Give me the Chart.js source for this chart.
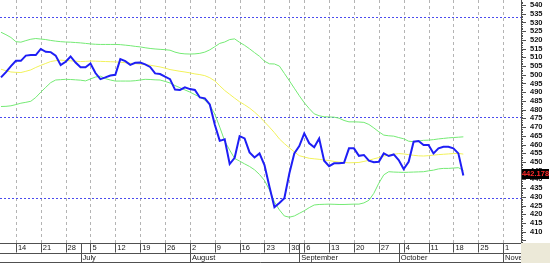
<!DOCTYPE html>
<html>
<head>
<meta charset="utf-8">
<script src="https://cdn.jsdelivr.net/npm/chart.js@4.4.1/dist/chart.umd.min.js"></script>
<style>
    html, body { margin: 0; padding: 0; background: #fff; }
</style>
</head>
<body>
<canvas id="graficoPrecio" width="550" height="263"></canvas>
<script>
// Datos (una sesion por posicion)
const precio = [498.5, 501.5, 505, 508, 508, 511, 511.3, 511.3, 514.8, 513.2,
    513, 511, 505.6, 507.5, 510.5, 507, 504.3, 504.3, 506.5, 501,
    497.5, 498.5, 499.6, 500, 509, 507.8, 505.7, 506.9, 507, 506,
    504.5, 500.8, 500.4, 498.9, 497.5, 491.5, 491.3, 492.8, 491.8, 491.3,
    487, 486.5, 483, 471.5, 462.1, 463, 448.8, 452.4, 464.8, 463.5,
    455.5, 452.6, 454.9, 448.2, 435.8, 424, 426.5, 429.2, 443.4, 454.9,
    459.1, 466.4, 460.7, 458.4, 463.5, 450.7, 447.6, 449.2, 449.2, 449.5,
    457.8, 457.8, 453.5, 454, 450.7, 449.8, 450.1, 454.9, 453.4, 454.3,
    451.1, 445.9, 450.1, 461.6, 462, 459.7, 459.7, 454.9, 457.8, 458.7,
    458.7, 457.8, 454.9, 442.2];

const media = [503.2, 502.3, 501.6, 501.4, 501.3, 502.0, 502.8, 504.2, 505.4, 506.5,
    507.6, 508.1, 508.4, 508.2, 508.0, 507.8, 507.6, 507.7, 507.9, 507.8,
    507.7, 507.6, 507.5, 507.4, 507.2, 506.9, 506.6, 506.4, 506.1, 505.9,
    505.5, 505.0, 504.5, 503.8, 503.0, 502.5, 502.0, 501.6, 501.1, 500.5,
    500.1, 499.5, 498.3, 496.5, 493.7, 491.0, 488.8, 486.6, 484.5, 482.8,
    480.9, 478.6, 476.0, 473.0, 470.0, 466.8, 463.2, 460.5, 458.1, 455.8,
    453.6, 452.8, 452.1, 451.8, 451.5, 451.1, 450.8, 450.3, 449.9, 449.7,
    449.5, 449.6, 449.7, 450.3, 450.9, 451.8, 452.5, 453.4, 453.9, 454.4,
    454.8, 454.6, 454.2, 453.8, 453.5, 453.4, 453.6, 453.9, 454.2, 454.4,
    454.6, 454.8, 454.9, 454.5];

const bandaSup = [524.4, 523.0, 521.4, 519.0, 518.7, 519.6, 520.4, 520.8, 520.5, 520.2,
    519.7, 519.3, 519.0, 518.8, 518.7, 518.5, 518.3, 518.0, 517.7, 517.5,
    517.4, 517.4, 517.4, 517.4, 517.3, 517.0, 516.7, 516.3, 516.0, 515.5,
    515.1, 514.8, 514.6, 514.4, 514.1, 513.0, 512.3, 512.0, 511.9, 512.0,
    512.3, 513.0, 514.3, 516.1, 518.0, 518.8, 520.2, 520.6, 518.6, 516.9,
    514.9, 512.7, 510.6, 507.8, 506.3, 506.2, 505.0, 500.8, 496.6, 492.3,
    488.0, 484.0, 480.6, 477.6, 476.5, 475.9, 475.8, 475.7, 475.1, 473.8,
    473.0, 473.0, 472.9, 472.7, 471.5, 469.5, 467.3, 465.4, 465.0, 464.8,
    464.0, 463.3, 461.9, 461.6, 462.0, 462.4, 462.5, 462.8, 463.2, 463.5,
    463.8, 464.0, 464.2, 464.4];

const bandaInf = [481.8, 481.9, 482.2, 482.9, 483.7, 484.2, 484.8, 487.0, 490.0, 492.8,
    495.5, 497.0, 497.2, 497.4, 497.3, 497.1, 496.9, 496.5, 497.6, 498.7,
    499.2, 497.8, 497.0, 496.4, 496.4, 496.4, 496.4, 496.6, 497.0, 497.4,
    497.3, 497.1, 497.0, 496.2, 495.3, 493.8, 492.6, 491.3, 490.1, 488.6,
    487.2, 485.5, 482.6, 477.5, 470.0, 462.0, 456.8, 452.0, 450.5, 448.9,
    447.4, 445.5, 442.8, 439.4, 434.0, 427.0, 422.5, 419.0, 418.3, 419.0,
    420.5, 422.0, 423.8, 425.3, 425.6, 425.7, 425.8, 425.7, 425.6, 425.6,
    425.7, 425.8, 425.8, 426.5, 428.0, 432.0, 437.8, 442.6, 444.4, 444.2,
    444.1, 444.0, 444.1, 444.2, 444.3, 444.4, 444.9, 445.3, 446.0, 446.3,
    446.3, 446.5, 446.7, 445.2];

// Eje de fechas: posicion (sesion) de cada lunes y su etiqueta
const semanasIdx = [3, 8, 13, 18, 23, 28, 33, 38, 43, 48, 53, 58, 61, 66, 71, 76, 81, 86, 91, 96, 101];
const etiquetasDias = ['14', '21', '28', '5', '12', '19', '26', '2', '9', '16', '23', '30', '6', '13', '20', '27', '4', '11', '18', '25', '1'];
const mesesIdx = [16, 38, 60, 80, 101];
const meses = ['July', 'August', 'September', 'October', 'November'];

// Eje de precios
const valoresEjeY = [410, 415, 420, 425, 430, 435, 440, 445, 450, 455, 460, 465, 470, 475,
    480, 485, 490, 495, 500, 505, 510, 515, 520, 525, 530, 535, 540];
const niveles = [533.1, 475.6, 429.1];
const ultimoValor = 442.178;

const fuente = "'Liberation Sans', Arial, sans-serif";

function aPuntos(serie) {
    return serie.map((v, i) => ({ x: i, y: v }));
}

// Rejilla vertical semanal y lineas horizontales punteadas
const rejilla = {
    id: 'rejilla',
    beforeDatasetsDraw(chart) {
        const { ctx, chartArea } = chart;
        const x = chart.scales.x;
        const y = chart.scales.y;
        ctx.save();
        ctx.lineWidth = 1;
        ctx.strokeStyle = '#b4b4b4';
        ctx.setLineDash([3, 3]);
        ctx.beginPath();
        semanasIdx.forEach(d => {
            const px = Math.round(x.getPixelForValue(d)) + 0.5;
            ctx.moveTo(px, chartArea.top);
            ctx.lineTo(px, chartArea.bottom);
        });
        ctx.stroke();
        ctx.strokeStyle = '#4b4bef';
        ctx.setLineDash([2, 2]);
        ctx.beginPath();
        niveles.forEach(n => {
            const py = Math.round(y.getPixelForValue(n)) + 0.5;
            ctx.moveTo(chartArea.left, py);
            ctx.lineTo(chartArea.right, py);
        });
        ctx.stroke();
        ctx.restore();
    }
};

// Eje inferior con dias y meses, marcas menores del eje Y y recuadro del ultimo valor
const ejes = {
    id: 'ejes',
    afterDraw(chart) {
        const { ctx, chartArea } = chart;
        const x = chart.scales.x;
        const y = chart.scales.y;
        const arriba = chartArea.bottom;
        const medio = arriba + 9.5;
        const abajo = arriba + 19;
        ctx.save();

        ctx.fillStyle = '#ece9d8';
        ctx.fillRect(chartArea.right, arriba, chart.width - chartArea.right, chart.height - arriba);
        ctx.fillRect(0, abajo, chartArea.right, chart.height - abajo);

        ctx.strokeStyle = '#505050';
        ctx.lineWidth = 1;
        ctx.beginPath();
        [arriba, medio, abajo].forEach(py => {
            ctx.moveTo(0, Math.round(py) + 0.5);
            ctx.lineTo(chartArea.right, Math.round(py) + 0.5);
        });
        semanasIdx.forEach(d => {
            const px = Math.round(x.getPixelForValue(d)) + 0.5;
            ctx.moveTo(px, arriba);
            ctx.lineTo(px, medio);
        });
        mesesIdx.forEach(m => {
            const px = Math.round(x.getPixelForValue(m)) + 0.5;
            ctx.moveTo(px, arriba);
            ctx.lineTo(px, abajo);
        });
        ctx.stroke();

        ctx.beginPath();
        ctx.rect(0, arriba, chartArea.right, abajo - arriba);
        ctx.clip();
        ctx.fillStyle = '#202020';
        ctx.font = '7.5px ' + fuente;
        ctx.textBaseline = 'middle';
        ctx.textAlign = 'left';
        semanasIdx.forEach((d, i) => {
            ctx.fillText(etiquetasDias[i], x.getPixelForValue(d) + 2, arriba + 5);
        });
        mesesIdx.forEach((m, i) => {
            ctx.fillText(meses[i], x.getPixelForValue(m) + 2, medio + 5);
        });
        ctx.restore();

        // marcas del eje de precios
        ctx.save();
        ctx.strokeStyle = '#505050';
        ctx.lineWidth = 1;
        ctx.beginPath();
        for (let v = 404; v <= 542; v++) {
            const py = Math.round(y.getPixelForValue(v)) + 0.5;
            const largo = v % 5 === 0 ? 5 : 2;
            ctx.moveTo(y.left, py);
            ctx.lineTo(y.left + largo, py);
        }
        ctx.stroke();

        const py = Math.round(y.getPixelForValue(ultimoValor)) - 2;
        ctx.fillStyle = '#000';
        ctx.fillRect(y.left + 1, py - 5, 27, 10);
        ctx.fillStyle = '#ff2a2a';
        ctx.font = 'bold 7.5px ' + fuente;
        ctx.textAlign = 'center';
        ctx.textBaseline = 'middle';
        ctx.fillText(ultimoValor.toFixed(3), y.left + 14.5, py);
        ctx.restore();
    }
};

async function crearGrafico() {
    try {
        const ctx = document.getElementById('graficoPrecio').getContext('2d');
        new Chart(ctx, {
            type: 'line',
            data: {
                datasets: [
                    { label: 'Precio', data: aPuntos(precio), borderColor: '#1e1ef5', borderWidth: 2 },
                    { label: 'Media', data: aPuntos(media), borderColor: '#f2f25a', borderWidth: 1 },
                    { label: 'Banda superior', data: aPuntos(bandaSup), borderColor: '#74ea74', borderWidth: 1 },
                    { label: 'Banda inferior', data: aPuntos(bandaInf), borderColor: '#74ea74', borderWidth: 1 }
                ]
            },
            options: {
                responsive: false,
                animation: false,
                layout: { padding: { top: 0, left: 0, right: 0, bottom: 20 } },
                elements: {
                    point: { radius: 0 },
                    line: { tension: 0, fill: false }
                },
                plugins: {
                    legend: { display: false },
                    tooltip: { enabled: false }
                },
                scales: {
                    x: {
                        type: 'linear',
                        min: -0.2,
                        max: 104.6,
                        afterBuildTicks: (s) => { s.ticks = semanasIdx.map(v => ({ value: v })); },
                        ticks: { display: false },
                        grid: { display: false, drawTicks: false },
                        border: { display: false }
                    },
                    y: {
                        position: 'right',
                        min: 403.5,
                        max: 542.9,
                        afterBuildTicks: (s) => { s.ticks = valoresEjeY.map(v => ({ value: v })); },
                        afterFit: (s) => { s.width = 29; s.paddingTop = 0; s.paddingBottom = 0; },
                        grid: { display: false, drawTicks: true, tickLength: 9 },
                        border: { display: true, color: '#505050' },
                        ticks: {
                            padding: 0,
                            autoSkip: false,
                            color: '#111',
                            font: { family: fuente, size: 7.5, weight: 'bold' },
                            callback: (v) => String(v)
                        }
                    }
                }
            },
            plugins: [rejilla, ejes]
        });
    } catch (error) {
        console.error('Error al crear el grafico:', error);
    }
}

document.addEventListener('DOMContentLoaded', function () {
    crearGrafico();
});
</script>
</body>
</html>
